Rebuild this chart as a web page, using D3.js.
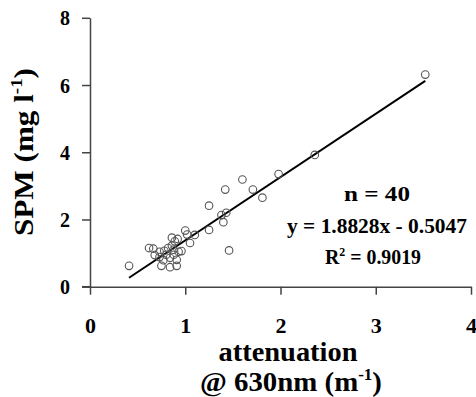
<!DOCTYPE html>
<html><head><meta charset="utf-8">
<script src="https://cdn.jsdelivr.net/npm/d3@7"></script>
<style>
html,body{margin:0;padding:0;background:#fff;}
</style></head>
<body>
<svg id="chart" width="476" height="397"></svg>
<script>
const attenuation = [0.41,0.62,0.665,0.68,0.73,0.75,0.77,0.80,0.84,0.86,0.89,0.875,0.93,0.91,0.91,0.84,0.82,1.00,1.02,1.05,1.10,1.25,1.25,1.38,1.43,1.40,1.42,1.46,1.60,1.71,1.81,1.98,2.36,3.52,0.92,0.78,0.86,0.96,0.73,0.88];
const spm = [0.62,1.15,1.13,0.94,1.04,0.62,0.79,0.95,0.58,1.46,1.35,1.10,1.04,0.80,0.62,0.86,1.15,1.67,1.55,1.30,1.54,1.69,2.41,2.13,2.20,1.92,2.89,1.08,3.19,2.89,2.65,3.35,3.92,6.31,1.42,1.07,1.22,1.06,0.88,0.95];
const xTicks = [0,1,2,3,4];
const yTicks = [0,2,4,6,8];
const slope = 1.8828, intercept = -0.5047;
const statLines = ["n = 40","y = 1.8828x - 0.5047"];

const FONT = "Liberation Serif";
const svg = d3.select("#chart");
const x = d3.scaleLinear().domain([0,4]).range([90,471]);
const y = d3.scaleLinear().domain([0,8]).range([286.7,17.8]);
const axisColor = "#444";

// axes
const gx = svg.append("g").attr("transform","translate(0,286.7)")
  .call(d3.axisBottom(x).tickValues(xTicks).tickSize(8).tickSizeOuter(0).tickFormat(d3.format("d")));
const gy = svg.append("g").attr("transform","translate(90,0)")
  .call(d3.axisLeft(y).tickValues(yTicks).tickSize(8).tickSizeOuter(0).tickFormat(d3.format("d")));
[gx,gy].forEach(g=>{
  g.attr("font-family",null).attr("font-size",null);
  g.select(".domain").attr("stroke",axisColor).attr("stroke-width",1.5);
  g.selectAll(".tick line").attr("stroke",axisColor).attr("stroke-width",1.5);
  g.selectAll(".tick text").attr("fill","#000");
});
// extend x axis line left to y-axis tick
svg.append("line").attr("x1",82).attr("x2",90).attr("y1",286.7).attr("y2",286.7)
  .attr("stroke",axisColor).attr("stroke-width",1.5);
gx.selectAll(".tick text").attr("font-size",22).attr("y",null).attr("dy",null)
  .attr("transform","translate(0,46.3)");
gy.selectAll(".tick text").attr("font-size",20).attr("x",-20).attr("dy","0.35em");

// regression line
const xr = d3.extent(attenuation);
svg.append("path")
  .datum(xr.map(v=>[v, slope*v+intercept]))
  .attr("d", d3.line().x(d=>x(d[0])).y(d=>y(d[1])))
  .attr("stroke","#000").attr("stroke-width",2).attr("fill","none");

// points
svg.append("g").selectAll("circle").data(attenuation.map((a,i)=>[a,spm[i]])).join("circle")
  .attr("cx",d=>x(d[0])).attr("cy",d=>y(d[1])).attr("r",3.8)
  .attr("fill","none").attr("stroke","#555").attr("stroke-width",1.1);

// stats
svg.append("text").attr("x",377).attr("y",201).attr("text-anchor","middle").attr("font-size",20)
  .attr("textLength",66).attr("lengthAdjust","spacingAndGlyphs").text(statLines[0]);
svg.append("text").attr("x",377).attr("y",233).attr("text-anchor","middle").attr("font-size",20)
  .attr("textLength",180).attr("lengthAdjust","spacingAndGlyphs").text(statLines[1]);
const r2 = svg.append("text").attr("x",373).attr("y",264).attr("text-anchor","middle").attr("font-size",20)
  .attr("textLength",96).attr("lengthAdjust","spacingAndGlyphs");
r2.append("tspan").text("R");
r2.append("tspan").attr("font-size",12).attr("dy",-8).text("2");
r2.append("tspan").attr("dy",8).text(" = 0.9019");

// axis titles
svg.append("text").attr("x",288).attr("y",361).attr("text-anchor","middle").attr("font-size",27)
  .attr("textLength",139).attr("lengthAdjust","spacingAndGlyphs").text("attenuation");
const t2 = svg.append("text").attr("x",291).attr("y",391).attr("text-anchor","middle").attr("font-size",27)
  .attr("textLength",182).attr("lengthAdjust","spacingAndGlyphs");
t2.append("tspan").text("@ 630nm (m");
t2.append("tspan").attr("font-size",16).attr("dy",-11).text("-1");
t2.append("tspan").attr("dy",11).text(")");

const yt = svg.append("text").attr("transform","translate(33,152) rotate(-90)").attr("text-anchor","middle")
  .attr("font-size",28).attr("textLength",168).attr("lengthAdjust","spacingAndGlyphs");
yt.append("tspan").text("SPM (mg l");
yt.append("tspan").attr("font-size",17).attr("dy",-11).text("-1");
yt.append("tspan").attr("dy",11).text(")");

svg.selectAll("text").attr("font-family",FONT).attr("font-weight","bold");
</script>
</body></html>
